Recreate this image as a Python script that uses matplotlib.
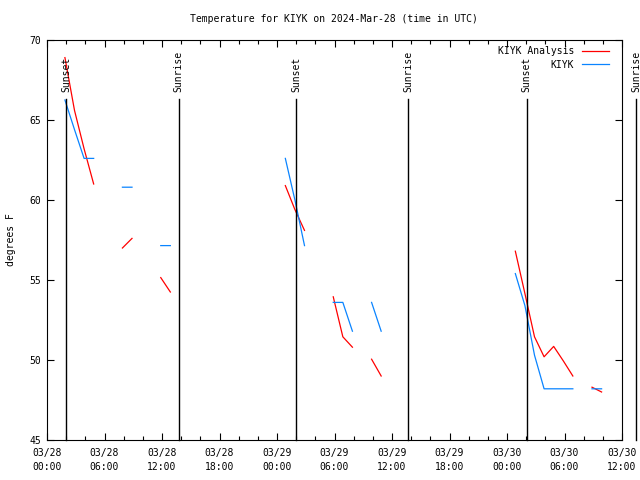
"""Temperature for KIYK, observed vs analysis, with sunrise/sunset markers."""
import numpy as np
import pandas as pd
import matplotlib
matplotlib.use("Agg")
import matplotlib.pyplot as plt
import matplotlib.dates as mdates

nan = np.nan
base = pd.Timestamp("2024-03-28 00:00")

# hours after 03/28 00:00 UTC; nan entries break the lines
hours = [1.87, 2.87, 3.87, 4.87, 5.87, 7.87, 8.87, 9.87, 11.87, 12.87, 13.87,
         24.87, 25.87, 26.87, 27.87, 29.87, 30.87, 31.87, 32.87, 33.87, 34.87,
         35.87, 48.87, 49.87, 50.87, 51.87, 52.87, 53.87, 54.87, 55.87,
         56.87, 57.87]
analysis = [68.9, 65.6, 63.2, 61.0, nan, 57.0, 57.6, nan, 55.15, 54.25, nan,
            60.9, 59.4, 58.1, nan, 53.95, 51.45, 50.8, nan, 50.05, 49.0,
            nan, 56.8, 54.15, 51.45, 50.2, 50.85, 49.95, 49.0, nan,
            48.3, 48.0]
observed = [66.25, 64.4, 62.6, 62.6, nan, 60.8, 60.8, nan, 57.15, 57.15, nan,
            62.6, 60.0, 57.15, nan, 53.6, 53.6, 51.8, nan, 53.6, 51.8,
            nan, 55.4, 53.4, 50.3, 48.2, 48.2, 48.2, 48.2, nan,
            48.2, 48.2]

sunset_hours = [2.03, 26.0, 50.05]
sunrise_hours = [13.75, 37.7, 61.47]

def to_time(h):
    return base + pd.to_timedelta(h, unit="h")

t = to_time(np.array(hours))
font = "DejaVu Sans Mono"
fs = 7

fig = plt.figure(figsize=(6.4, 4.8), dpi=100)
ax = fig.add_axes([47 / 640, 40 / 480, 575 / 640, 400 / 480])

ax.plot(t, analysis, color="#ff0000", lw=0.9, label="KIYK Analysis")
ax.plot(t, observed, color="#0a84ff", lw=0.9, label="KIYK")

# sun events: line up to the label, label drawn above it
for hs, name in [(sunset_hours, "Sunset"), (sunrise_hours, "Sunrise")]:
    for h in hs:
        x = mdates.date2num(to_time(h))
        ax.plot([x, x], [45, 66.3], color="black", lw=1.0, clip_on=False)
        ax.text(x, 66.75, name, rotation=90, ha="center", va="bottom",
                fontsize=fs, family=font, clip_on=False)

ax.set_xlim(to_time(0), to_time(60))
ax.set_ylim(45, 70)
ax.set_yticks([45, 50, 55, 60, 65, 70])
ax.xaxis.set_major_locator(mdates.HourLocator(byhour=[0, 6, 12, 18]))
ax.xaxis.set_minor_locator(mdates.HourLocator(byhour=range(0, 24, 2)))
ax.xaxis.set_major_formatter(mdates.DateFormatter("%m/%d\n%H:%M"))
ax.tick_params(which="both", direction="in", top=True, right=True)
ax.tick_params(which="major", length=5, width=0.8)
ax.tick_params(which="minor", length=3, width=0.8)
ax.tick_params(axis="x", which="major", pad=6)
ax.tick_params(axis="y", which="major", pad=4)
for lab in ax.get_xticklabels() + ax.get_yticklabels():
    lab.set_family(font)
    lab.set_fontsize(fs)
    lab.set_linespacing(1.5)
for sp in ax.spines.values():
    sp.set_linewidth(0.8)

ax.set_ylabel("degrees F", family=font, fontsize=fs, labelpad=10)
fig.suptitle("Temperature for KIYK on 2024-Mar-28 (time in UTC)",
             family=font, fontsize=fs, x=(47 + 287) / 640, y=1 - 19 / 480,
             va="center")

ax.legend(loc="upper right", bbox_to_anchor=(0.981, 0.99), frameon=False,
          markerfirst=False, prop={"family": font, "size": fs},
          handlelength=2.8, handletextpad=0.8, labelspacing=0.4,
          borderaxespad=0, borderpad=0.2)

fig.savefig("out.png", dpi=100)
